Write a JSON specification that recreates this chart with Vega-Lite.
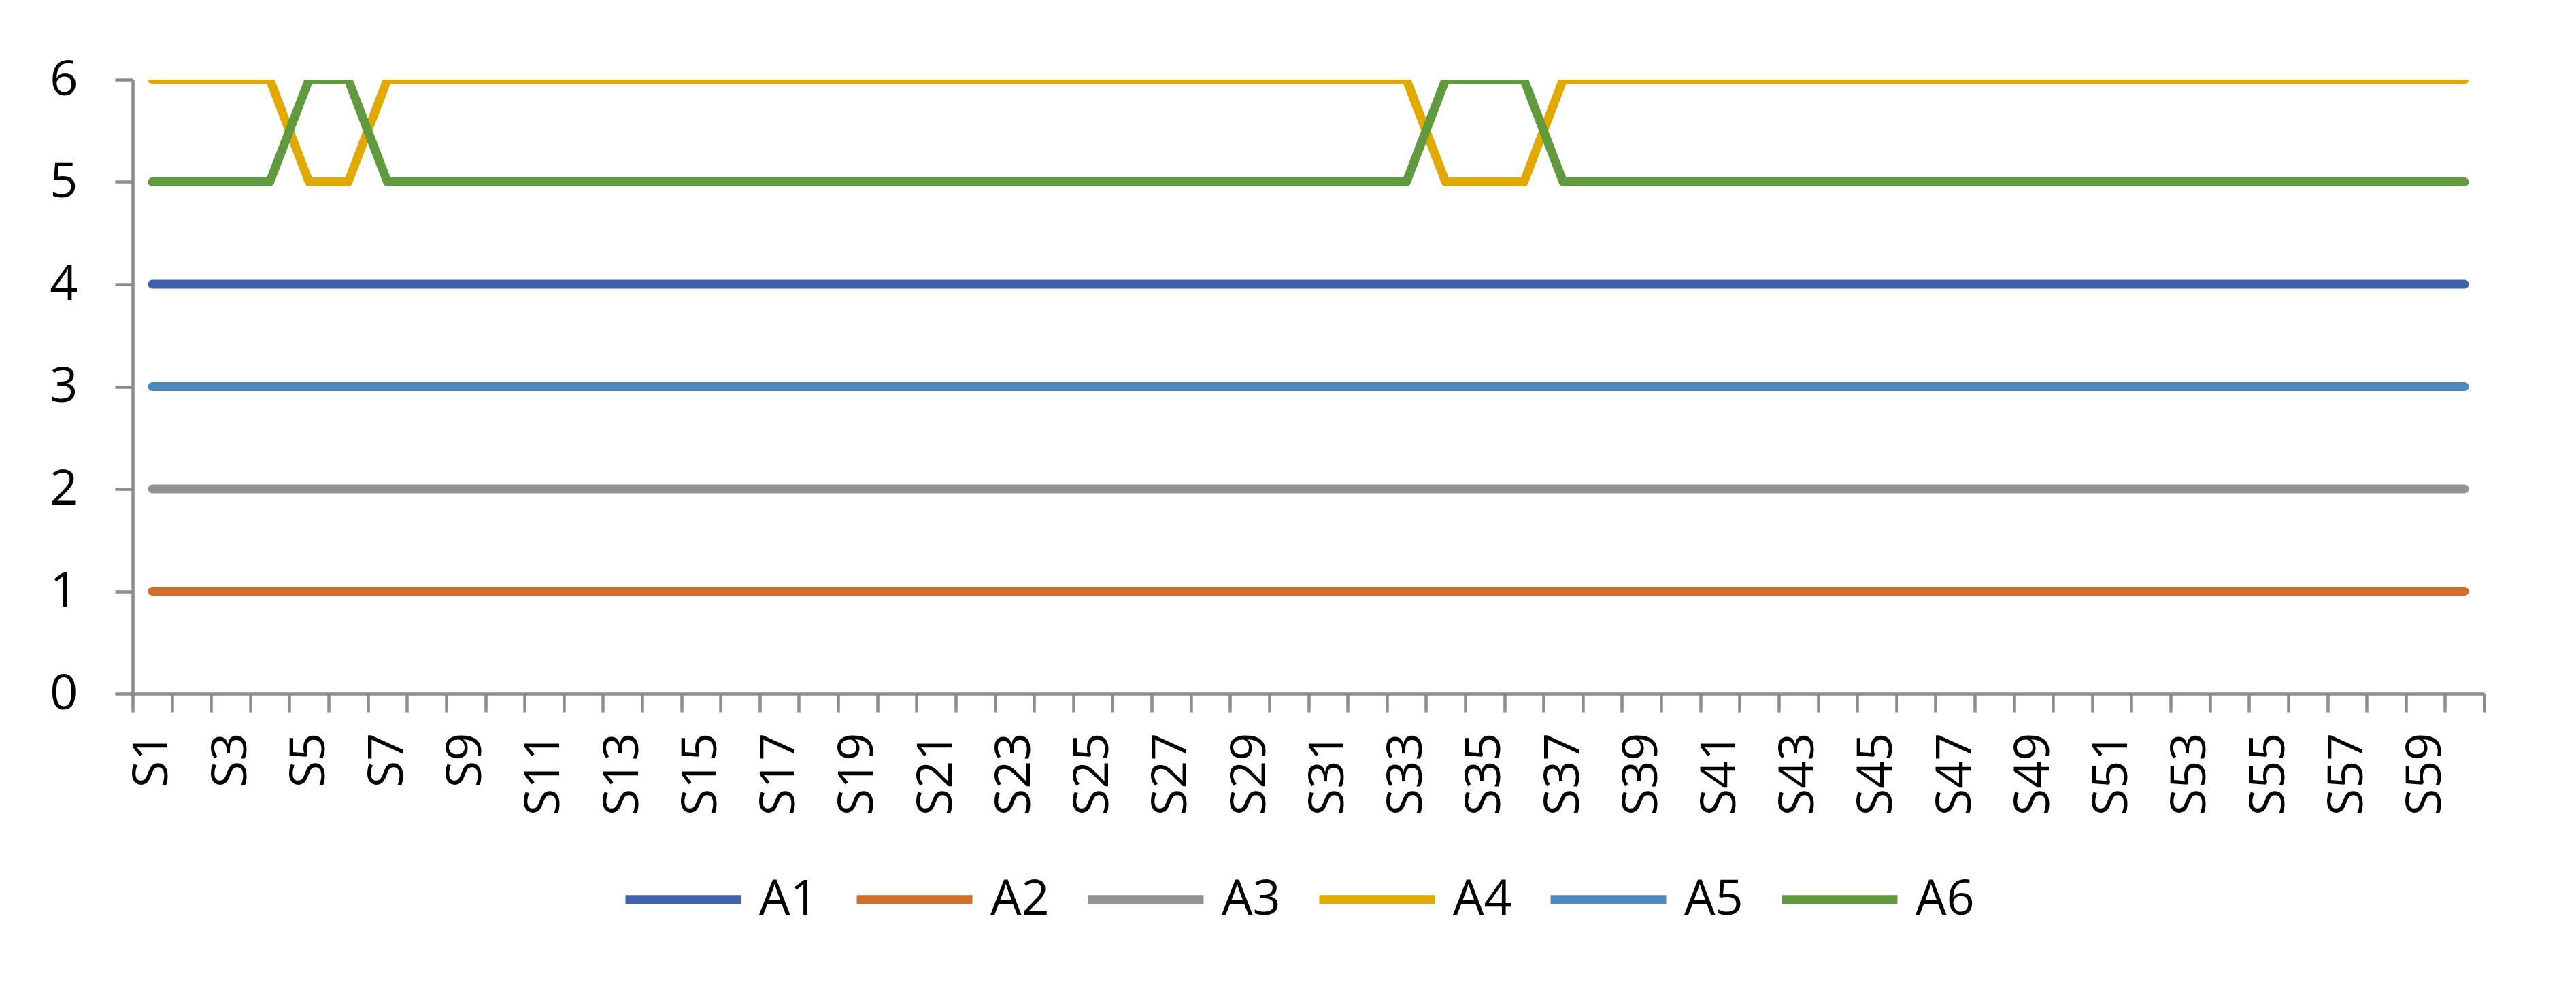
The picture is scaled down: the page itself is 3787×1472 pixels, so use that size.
{
  "$schema": "https://vega.github.io/schema/vega-lite/v6.json",
  "autosize": {"type": "none"},
  "padding": {"left": 195, "top": 117, "right": 135, "bottom": 452},
  "width": 3457,
  "height": 903,
  "background": "white",
  "config": {"view": {"stroke": null}, "font": "Open Sans"},
  "data": {"values": [
    {"s":"S1","A1":4,"A2":1,"A3":2,"A4":6,"A5":3,"A6":5},
    {"s":"S2","A1":4,"A2":1,"A3":2,"A4":6,"A5":3,"A6":5},
    {"s":"S3","A1":4,"A2":1,"A3":2,"A4":6,"A5":3,"A6":5},
    {"s":"S4","A1":4,"A2":1,"A3":2,"A4":6,"A5":3,"A6":5},
    {"s":"S5","A1":4,"A2":1,"A3":2,"A4":5,"A5":3,"A6":6},
    {"s":"S6","A1":4,"A2":1,"A3":2,"A4":5,"A5":3,"A6":6},
    {"s":"S7","A1":4,"A2":1,"A3":2,"A4":6,"A5":3,"A6":5},
    {"s":"S8","A1":4,"A2":1,"A3":2,"A4":6,"A5":3,"A6":5},
    {"s":"S9","A1":4,"A2":1,"A3":2,"A4":6,"A5":3,"A6":5},
    {"s":"S10","A1":4,"A2":1,"A3":2,"A4":6,"A5":3,"A6":5},
    {"s":"S11","A1":4,"A2":1,"A3":2,"A4":6,"A5":3,"A6":5},
    {"s":"S12","A1":4,"A2":1,"A3":2,"A4":6,"A5":3,"A6":5},
    {"s":"S13","A1":4,"A2":1,"A3":2,"A4":6,"A5":3,"A6":5},
    {"s":"S14","A1":4,"A2":1,"A3":2,"A4":6,"A5":3,"A6":5},
    {"s":"S15","A1":4,"A2":1,"A3":2,"A4":6,"A5":3,"A6":5},
    {"s":"S16","A1":4,"A2":1,"A3":2,"A4":6,"A5":3,"A6":5},
    {"s":"S17","A1":4,"A2":1,"A3":2,"A4":6,"A5":3,"A6":5},
    {"s":"S18","A1":4,"A2":1,"A3":2,"A4":6,"A5":3,"A6":5},
    {"s":"S19","A1":4,"A2":1,"A3":2,"A4":6,"A5":3,"A6":5},
    {"s":"S20","A1":4,"A2":1,"A3":2,"A4":6,"A5":3,"A6":5},
    {"s":"S21","A1":4,"A2":1,"A3":2,"A4":6,"A5":3,"A6":5},
    {"s":"S22","A1":4,"A2":1,"A3":2,"A4":6,"A5":3,"A6":5},
    {"s":"S23","A1":4,"A2":1,"A3":2,"A4":6,"A5":3,"A6":5},
    {"s":"S24","A1":4,"A2":1,"A3":2,"A4":6,"A5":3,"A6":5},
    {"s":"S25","A1":4,"A2":1,"A3":2,"A4":6,"A5":3,"A6":5},
    {"s":"S26","A1":4,"A2":1,"A3":2,"A4":6,"A5":3,"A6":5},
    {"s":"S27","A1":4,"A2":1,"A3":2,"A4":6,"A5":3,"A6":5},
    {"s":"S28","A1":4,"A2":1,"A3":2,"A4":6,"A5":3,"A6":5},
    {"s":"S29","A1":4,"A2":1,"A3":2,"A4":6,"A5":3,"A6":5},
    {"s":"S30","A1":4,"A2":1,"A3":2,"A4":6,"A5":3,"A6":5},
    {"s":"S31","A1":4,"A2":1,"A3":2,"A4":6,"A5":3,"A6":5},
    {"s":"S32","A1":4,"A2":1,"A3":2,"A4":6,"A5":3,"A6":5},
    {"s":"S33","A1":4,"A2":1,"A3":2,"A4":6,"A5":3,"A6":5},
    {"s":"S34","A1":4,"A2":1,"A3":2,"A4":5,"A5":3,"A6":6},
    {"s":"S35","A1":4,"A2":1,"A3":2,"A4":5,"A5":3,"A6":6},
    {"s":"S36","A1":4,"A2":1,"A3":2,"A4":5,"A5":3,"A6":6},
    {"s":"S37","A1":4,"A2":1,"A3":2,"A4":6,"A5":3,"A6":5},
    {"s":"S38","A1":4,"A2":1,"A3":2,"A4":6,"A5":3,"A6":5},
    {"s":"S39","A1":4,"A2":1,"A3":2,"A4":6,"A5":3,"A6":5},
    {"s":"S40","A1":4,"A2":1,"A3":2,"A4":6,"A5":3,"A6":5},
    {"s":"S41","A1":4,"A2":1,"A3":2,"A4":6,"A5":3,"A6":5},
    {"s":"S42","A1":4,"A2":1,"A3":2,"A4":6,"A5":3,"A6":5},
    {"s":"S43","A1":4,"A2":1,"A3":2,"A4":6,"A5":3,"A6":5},
    {"s":"S44","A1":4,"A2":1,"A3":2,"A4":6,"A5":3,"A6":5},
    {"s":"S45","A1":4,"A2":1,"A3":2,"A4":6,"A5":3,"A6":5},
    {"s":"S46","A1":4,"A2":1,"A3":2,"A4":6,"A5":3,"A6":5},
    {"s":"S47","A1":4,"A2":1,"A3":2,"A4":6,"A5":3,"A6":5},
    {"s":"S48","A1":4,"A2":1,"A3":2,"A4":6,"A5":3,"A6":5},
    {"s":"S49","A1":4,"A2":1,"A3":2,"A4":6,"A5":3,"A6":5},
    {"s":"S50","A1":4,"A2":1,"A3":2,"A4":6,"A5":3,"A6":5},
    {"s":"S51","A1":4,"A2":1,"A3":2,"A4":6,"A5":3,"A6":5},
    {"s":"S52","A1":4,"A2":1,"A3":2,"A4":6,"A5":3,"A6":5},
    {"s":"S53","A1":4,"A2":1,"A3":2,"A4":6,"A5":3,"A6":5},
    {"s":"S54","A1":4,"A2":1,"A3":2,"A4":6,"A5":3,"A6":5},
    {"s":"S55","A1":4,"A2":1,"A3":2,"A4":6,"A5":3,"A6":5},
    {"s":"S56","A1":4,"A2":1,"A3":2,"A4":6,"A5":3,"A6":5},
    {"s":"S57","A1":4,"A2":1,"A3":2,"A4":6,"A5":3,"A6":5},
    {"s":"S58","A1":4,"A2":1,"A3":2,"A4":6,"A5":3,"A6":5},
    {"s":"S59","A1":4,"A2":1,"A3":2,"A4":6,"A5":3,"A6":5},
    {"s":"S60","A1":4,"A2":1,"A3":2,"A4":6,"A5":3,"A6":5}
  ]},
  "transform": [{"fold": ["A1","A2","A3","A4","A5","A6"], "as": ["a","v"]}],
  "mark": {"type": "line", "strokeWidth": 13, "strokeCap": "round", "strokeJoin": "round", "clip": true},
  "encoding": {
    "x": {
      "field": "s", "type": "ordinal", "sort": null, "bandPosition": 0.5,
      "scale": {"type": "band", "paddingInner": 0, "paddingOuter": 0},
      "axis": {
        "title": null, "tickBand": "extent", "labelAngle": 270, "labelAlign": "right", "labelBaseline": "middle",
        "labelExpr": "parseInt(substring(datum.label,1)) % 2 == 1 ? datum.label : ''",
        "labelOverlap": false, "labelFontSize": 72, "labelColor": "black", "labelFont": "Open Sans",
        "tickSize": 27, "labelPadding": 30, "tickColor": "#8c8c8c", "tickWidth": 4.5,
        "domainColor": "#8c8c8c", "domainWidth": 4.5, "grid": false
      }
    },
    "y": {
      "field": "v", "type": "quantitative",
      "scale": {"domain": [0, 6], "nice": false},
      "axis": {
        "title": null, "values": [0,1,2,3,4,5,6], "labelFontSize": 72, "labelColor": "black", "labelFont": "Open Sans",
        "tickSize": 26, "labelPadding": 55, "tickColor": "#8c8c8c", "tickWidth": 4.5,
        "domainColor": "#8c8c8c", "domainWidth": 4.5, "grid": false
      }
    },
    "color": {
      "field": "a", "type": "nominal",
      "scale": {"domain": ["A1","A2","A3","A4","A5","A6"], "range": ["#3E63AC","#D26D2A","#929292","#E0AA00","#4F89BC","#619A3E"]},
      "legend": {
        "title": null, "orient": "none", "direction": "horizontal", "columns": 6,
        "legendX": 718, "legendY": 1114,
        "symbolType": "stroke", "symbolSize": 28900, "symbolStrokeWidth": 13,
        "labelFontSize": 72, "labelFont": "Open Sans", "labelColor": "black", "labelOffset": 20, "columnPadding": 30
      }
    }
  }
}
